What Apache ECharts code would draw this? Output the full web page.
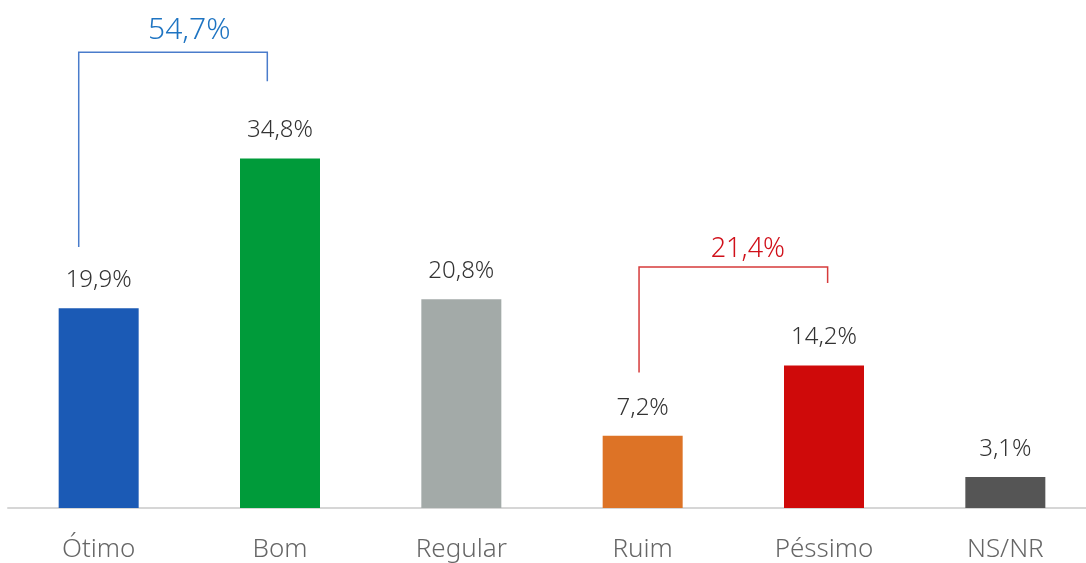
<!DOCTYPE html>
<html>
<head>
<meta charset="utf-8">
<script src="https://cdn.jsdelivr.net/npm/echarts@6/dist/echarts.min.js"></script>
<style>
  html, body { margin: 0; padding: 0; background: #fff; overflow: hidden; }
  #wrap { width: 1086px; height: 563px; overflow: hidden; }
  #chart { width: 1096px; height: 563px; }
</style>
</head>
<body>
<div id="wrap"><div id="chart"></div></div>
<script>
// categorias e valores (%)
const categories = ['Ótimo', 'Bom', 'Regular', 'Ruim', 'Péssimo', 'NS/NR'];
const values = [19.9, 34.8, 20.8, 7.2, 14.2, 3.1];
const barColors = ['#1B5AB5', '#009B3A', '#A3AAA8', '#DD7326', '#CF0A0A', '#555555'];

// somas agrupadas (colchetes): posição x em unidades de categoria, y em %
const bracketLabels = ['54,7%', '21,4%'];
const bracketX = [[0.39, 1.43], [3.48, 4.52]];
const bracketTop = [45.4, 24.0];
const bracketFoot = [[26.0, 42.5], [13.5, 22.4]];
const bracketLabelPos = [[1.0, 47.6], [4.08, 25.8]];
const bracketColors = ['#4A7CCB', '#D63B3B'];
const bracketTextColors = ['#1E74C2', '#D0101A'];
const bracketFontSizes = [30, 27];

const font = '"Noto Sans", sans-serif';
// o gráfico passa um pouco da janela à direita, como no original
const chart = echarts.init(document.getElementById('chart'), null, { renderer: 'canvas' });

const bracketData = bracketLabels.map((label, i) => [
  bracketX[i][0], bracketX[i][1], bracketTop[i],
  bracketFoot[i][0], bracketFoot[i][1],
  bracketLabelPos[i][0], bracketLabelPos[i][1], i
]);

chart.setOption({
  animation: false,
  grid: { left: 8, right: 0, top: 6, bottom: 52 },
  xAxis: [
    {
      type: 'category',
      data: categories,
      axisTick: { show: false },
      axisLine: { lineStyle: { color: '#D6D6D6', width: 2 } },
      axisLabel: { color: '#666', fontSize: 26, fontWeight: 300, fontFamily: font, margin: 29 }
    },
    { type: 'value', min: 0, max: 6, show: false }
  ],
  yAxis: { type: 'value', min: 0, max: 50, show: false },
  series: [
    {
      type: 'bar',
      barWidth: 80,
      data: values.map((v, i) => ({ value: v, itemStyle: { color: barColors[i] } })),
      label: {
        show: true,
        position: 'top',
        distance: 16,
        color: '#333',
        fontSize: 24,
        fontWeight: 300,
        fontFamily: font,
        formatter: p => p.value.toFixed(1).replace('.', ',') + '%'
      }
    },
    {
      type: 'custom',
      xAxisIndex: 1,
      data: bracketData,
      renderItem: (params, api) => {
        const i = api.value(7);
        const x0 = api.value(0), x1 = api.value(1), top = api.value(2);
        const p1 = api.coord([x0, api.value(3)]);
        const p2 = api.coord([x0, top]);
        const p3 = api.coord([x1, top]);
        const p4 = api.coord([x1, api.value(4)]);
        const lp = api.coord([api.value(5), api.value(6)]);
        return {
          type: 'group',
          children: [
            {
              type: 'polyline',
              shape: { points: [p1, p2, p3, p4] },
              style: { stroke: bracketColors[i], lineWidth: 1.5, fill: null }
            },
            {
              type: 'text',
              x: lp[0], y: lp[1],
              style: {
                text: bracketLabels[i],
                fill: bracketTextColors[i],
                fontSize: bracketFontSizes[i],
                fontWeight: 300,
                fontFamily: font,
                align: 'center',
                verticalAlign: 'middle'
              }
            }
          ]
        };
      }
    }
  ]
});
</script>
</body>
</html>
